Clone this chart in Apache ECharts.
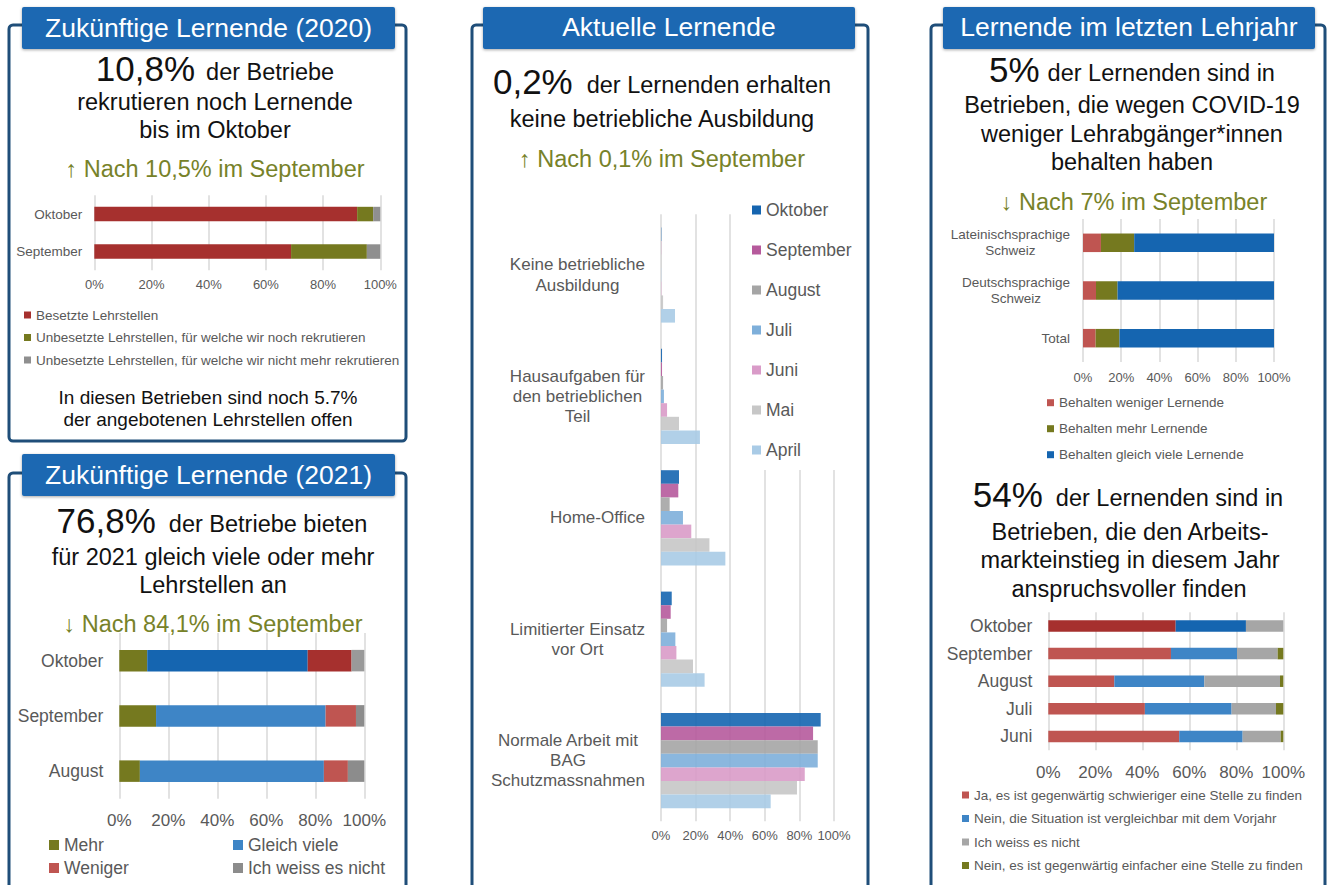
<!DOCTYPE html>
<html>
<head>
<meta charset="utf-8">
<script src="https://cdn.jsdelivr.net/npm/echarts@6/dist/echarts.min.js"></script>
<style>
html,body{margin:0;padding:0;background:#fff;}
#c{width:1328px;height:885px;}
</style>
</head>
<body>
<div id="c"></div>
<script>
// ---------- DATA ----------
// Panel 1: Zukünftige Lernende (2020)
const cat2020 = ['Oktober', 'September'];
const besetzt = [91.9, 68.8];
const unbesetztNoch = [5.6, 26.5];
const unbesetztNicht = [2.5, 4.7];

// Panel 2: Zukünftige Lernende (2021)
const cat2021 = ['Oktober', 'September', 'August'];
const mehr = [11.4, 15.0, 8.4];
const gleichViele = [65.5, 69.2, 75.1];
const weniger = [17.9, 12.4, 9.8];
const weissNicht2021 = [5.2, 3.4, 6.7];

// Panel 3: Aktuelle Lernende
const catAktuell = ['Keine betriebliche\nAusbildung', 'Hausaufgaben für\nden betrieblichen\nTeil', 'Home-Office', 'Limitierter Einsatz\nvor Ort', 'Normale Arbeit mit\nBAG\nSchutzmassnahmen'];
const monthNames = ['Oktober', 'September', 'August', 'Juli', 'Juni', 'Mai', 'April'];
const oktober = [0.2, 0.6, 10.4, 6.2, 92.3];
const september = [0.1, 0.6, 10.0, 5.6, 87.9];
const august = [0.1, 1.2, 5.0, 3.5, 90.6];
const juli = [0.1, 1.7, 12.7, 8.3, 90.6];
const juni = [0.2, 3.5, 17.5, 8.9, 83.1];
const mai = [1.2, 10.4, 28.0, 18.5, 78.6];
const april = [8.1, 22.5, 37.2, 25.2, 63.4];

// Panel 4: Lernende im letzten Lehrjahr
const catRegion = ['Lateinischsprachige\nSchweiz', 'Deutschsprachige\nSchweiz', 'Total'];
const behaltenWeniger = [9.4, 6.8, 6.6];
const behaltenMehr = [17.4, 11.3, 12.5];
const behaltenGleich = [73.2, 81.9, 80.9];

// Panel 5: Arbeitsmarkteinstieg
const catEinstieg = ['Oktober', 'September', 'August', 'Juli', 'Juni'];
const schwieriger = [54.2, 52.2, 28.1, 41.1, 55.7];
const vergleichbar = [29.9, 28.1, 38.3, 36.9, 27.0];
const weissNicht = [15.9, 17.3, 32.2, 18.9, 16.2];
const einfacher = [0, 2.4, 1.4, 3.1, 1.1];

const tickValues = [0, 20, 40, 60, 80, 100];

// ---------- STYLE ----------
const FONT = "'Liberation Sans', Arial, sans-serif";
const GREY_TXT = '#595959';
const OLIVE = '#75791F';
const OLIVE_TXT = '#778229';
const DARKRED = '#A6302E';
const RED = '#BF5551';
const DARKBLUE = '#1565B0';
const BLUE = '#3E85C6';
const FRAME = '#1F4E79';
const HEAD = '#1B67B2';

function xAx(gi, fs, margin) {
  return {
    type: 'value', gridIndex: gi, min: tickValues[0], max: tickValues[tickValues.length - 1], interval: 20,
    axisLabel: { formatter: '{value}%', fontSize: fs, color: GREY_TXT, margin: margin, fontFamily: FONT },
    splitLine: { lineStyle: { color: '#D9D9D9', width: 1.5 } },
    axisLine: { show: false }, axisTick: { show: false }
  };
}
function yAx(gi, cats, fs, margin, lh) {
  return {
    type: 'category', gridIndex: gi, data: cats, inverse: true,
    axisLine: { show: false }, axisTick: { show: false },
    axisLabel: {
      margin: margin, color: GREY_TXT, fontSize: fs, fontFamily: FONT,
      formatter: v => v.split('\n').map(s => '{c|' + s + '}').join('\n'),
      rich: { c: { align: 'center', fontSize: fs, color: GREY_TXT, lineHeight: lh, fontFamily: FONT } }
    }
  };
}
function bar(name, gi, data, color, bw, stack, itemColors, opacity) {
  return {
    type: 'bar', name: name, xAxisIndex: gi, yAxisIndex: gi, stack: stack, barWidth: bw,
    barGap: '0%',
    itemStyle: { color: color, opacity: opacity == null ? 1 : opacity },
    data: data.map((v, i) => itemColors ? { value: v, itemStyle: { color: itemColors[i] } } : v),
    emphasis: { disabled: true }
  };
}

// ---------- GRAPHIC ----------
const g = [];
function frame(x, y, w, h) {
  g.push({ type: 'rect', z: 1, shape: { x, y, width: w, height: h, r: 4 }, style: { fill: 'none', stroke: FRAME, lineWidth: 3 } });
}
function header(x, y, w, h, text, cy) {
  g.push({ type: 'rect', z: 2, shape: { x, y, width: w, height: h, r: 2 }, style: { fill: HEAD, shadowBlur: 3, shadowColor: 'rgba(0,0,0,0.35)', shadowOffsetY: 1 } });
  g.push({ type: 'text', z: 3, style: { x: x + w / 2, y: cy, text: text, fill: '#fff', fontSize: 26.5, fontFamily: FONT, align: 'center', verticalAlign: 'middle' } });
}
function txt(x, y, text, size, color) {
  g.push({ type: 'text', z: 3, style: { x, y, text, fill: color || '#111', fontSize: size, fontFamily: FONT, align: 'center', verticalAlign: 'middle' } });
}
function bigLine(x, y, big, rest, gap) {
  g.push({ type: 'text', z: 3, style: {
    x, y, text: '{b|' + big + '}{n|' + rest + '}', align: 'center', verticalAlign: 'middle', fontFamily: FONT,
    rich: {
      b: { fontSize: 35, fill: '#111', fontFamily: FONT, verticalAlign: 'bottom' },
      n: { fontSize: 23.5, fill: '#111', fontFamily: FONT, verticalAlign: 'bottom', padding: [0, 0, 2, gap] }
    }
  } });
}

// Frames
frame(9, 25, 397, 416);
frame(9, 473, 397, 440);
frame(472, 25, 396, 890);
frame(931, 25, 394, 890);
// Headers
header(22, 7, 373, 42, 'Zukünftige Lernende (2020)', 27.5);
header(22, 454, 373, 42, 'Zukünftige Lernende (2021)', 475);
header(483, 7, 372, 42, 'Aktuelle Lernende', 27);
header(943, 7, 372, 42, 'Lernende im letzten Lehrjahr', 27);

// Panel 1 texts
bigLine(215, 68, '10,8%', 'der Betriebe', 11);
txt(215, 102, 'rekrutieren noch Lernende', 23.5);
txt(215, 130, 'bis im Oktober', 23.5);
txt(215, 169, '↑ Nach 10,5% im September', 23.5, OLIVE_TXT);
txt(208, 397.5, 'In diesen Betrieben sind noch 5.7%', 19);
txt(208, 419, 'der angebotenen Lehrstellen offen', 19);

// Panel 2 texts
bigLine(212, 520.6, '76,8%', 'der Betriebe bieten', 13);
txt(213, 557, 'für 2021 gleich viele oder mehr', 23.5);
txt(213, 585.2, 'Lehrstellen an', 23.5);
txt(213, 623.5, '↓ Nach 84,1% im September', 23.5, OLIVE_TXT);

// Panel 3 texts
bigLine(662, 81.2, '0,2%', 'der Lernenden erhalten', 14);
txt(662, 118.6, 'keine betriebliche Ausbildung', 23.5);
txt(662, 158.5, '↑ Nach 0,1% im September', 23.5, OLIVE_TXT);

// Panel 4 texts
bigLine(1132, 69.6, '5%', 'der Lernenden sind in', 8);
txt(1132, 105.2, 'Betrieben, die wegen COVID-19', 23.5);
txt(1132, 133.6, 'weniger Lehrabgänger*innen', 23.5);
txt(1132, 162, 'behalten haben', 23.5);
txt(1134, 202, '↓ Nach 7% im September', 23.5, OLIVE_TXT);

// Panel 5 texts
bigLine(1128, 494.6, '54%', 'der Lernenden sind in', 13);
txt(1130, 532, 'Betrieben, die den Arbeits-', 23.5);
txt(1130, 560.2, 'markteinstieg in diesem Jahr', 23.5);
txt(1129, 588.6, 'anspruchsvoller finden', 23.5);

// ---------- CHART ----------
const monthColors = ['#1565B0', '#B65A9C', '#A5A5A5', '#7EAFDA', '#D99BC8', '#C7C7C7', '#A9CBE6'];
const monthData = [oktober, september, august, juli, juni, mai, april];

const series = [
  // Panel 1
  bar('Besetzte Lehrstellen', 0, besetzt, DARKRED, 14.5, 's0'),
  bar('Unbesetzte Lehrstellen, für welche wir noch rekrutieren', 0, unbesetztNoch, OLIVE, 14.5, 's0'),
  bar('Unbesetzte Lehrstellen, für welche wir nicht mehr rekrutieren', 0, unbesetztNicht, '#8F8F8F', 14.5, 's0'),
  // Panel 2
  bar('Mehr', 1, mehr, OLIVE, 21.5, 's1'),
  bar('Gleich viele', 1, gleichViele, BLUE, 21.5, 's1', [DARKBLUE, BLUE, BLUE]),
  bar('Weniger', 1, weniger, RED, 21.5, 's1', [DARKRED, RED, RED]),
  bar('Ich weiss es nicht', 1, weissNicht2021, '#8C8C8C', 21.5, 's1', ['#9A9A9A', '#8C8C8C', '#8C8C8C']),
  // Panel 4
  bar('Behalten weniger Lernende', 3, behaltenWeniger, RED, 18.5, 's3'),
  bar('Behalten mehr Lernende', 3, behaltenMehr, OLIVE, 18.5, 's3'),
  bar('Behalten gleich viele Lernende', 3, behaltenGleich, DARKBLUE, 18.5, 's3'),
  // Panel 5
  bar('Ja, es ist gegenwärtig schwieriger eine Stelle zu finden', 4, schwieriger, RED, 11.5, 's4', [DARKRED, RED, RED, RED, RED]),
  bar('Nein, die Situation ist vergleichbar mit dem Vorjahr', 4, vergleichbar, BLUE, 11.5, 's4', [DARKBLUE, BLUE, BLUE, BLUE, BLUE]),
  bar('Ich weiss es nicht', 4, weissNicht, '#A6A6A6', 11.5, 's4'),
  bar('Nein, es ist gegenwärtig einfacher eine Stelle zu finden', 4, einfacher, OLIVE, 11.5, 's4')
];
// Panel 3
monthNames.forEach((m, i) => series.push(bar(m, 2, monthData[i], monthColors[i], 13.6, undefined, null, 0.9)));

const legendText = (fs, lh) => ({ color: GREY_TXT, fontSize: fs, fontFamily: FONT, lineHeight: lh });

const option = {
  animation: false,
  textStyle: { fontFamily: FONT },
  graphic: g,
  grid: [
    { left: 94.3, width: 286, top: 195.3, height: 75, containLabel: false },
    { left: 119.3, width: 245, top: 633, height: 165.75 },
    { left: 661, width: 173, top: 214.3, height: 607 },
    { left: 1083, width: 191, top: 219, height: 143 },
    { left: 1048.3, width: 235, top: 612.2, height: 138 }
  ],
  xAxis: [xAx(0, 13, 8), xAx(1, 17, 13), xAx(2, 13, 7.5), xAx(3, 13, 8.5), xAx(4, 17, 13.5)],
  yAxis: [
    yAx(0, cat2020, 13.5, 12, 16),
    yAx(1, cat2021, 17.5, 16, 20),
    yAx(2, catAktuell, 17, 16, 20.3),
    yAx(3, catRegion, 13.5, 13, 16),
    yAx(4, catEinstieg, 17.5, 16, 20)
  ],
  legend: [
    { orient: 'vertical', left: 24, top: 307, padding: 0, itemWidth: 7, itemHeight: 7, itemGap: 6.5, icon: 'rect',
      textStyle: legendText(13.5, 16), selectedMode: false,
      data: ['Besetzte Lehrstellen', 'Unbesetzte Lehrstellen, für welche wir noch rekrutieren', 'Unbesetzte Lehrstellen, für welche wir nicht mehr rekrutieren'] },
    { orient: 'vertical', left: 49, top: 835, padding: 0, itemWidth: 10, itemHeight: 10, itemGap: 3, icon: 'rect',
      textStyle: legendText(17.5, 20), selectedMode: false,
      data: ['Mehr', 'Weniger'] },
    { orient: 'vertical', left: 233, top: 835, padding: 0, itemWidth: 10, itemHeight: 10, itemGap: 3, icon: 'rect',
      textStyle: legendText(17.5, 20), selectedMode: false,
      data: ['Gleich viele', { name: 'Ich weiss es nicht', itemStyle: { color: '#8C8C8C' } }] },
    { orient: 'vertical', left: 745, top: 190, padding: [10, 10, 10, 7], backgroundColor: '#fff', itemWidth: 9, itemHeight: 9, itemGap: 20, icon: 'rect',
      textStyle: legendText(17.5, 20), selectedMode: false,
      data: monthNames.map((m, i) => ({ name: m, itemStyle: { color: monthColors[i], opacity: 1 } })) },
    { orient: 'vertical', left: 1047, top: 394.7, padding: 0, itemWidth: 7, itemHeight: 7, itemGap: 10, icon: 'rect',
      textStyle: legendText(13.5, 16), selectedMode: false,
      data: ['Behalten weniger Lernende', 'Behalten mehr Lernende', 'Behalten gleich viele Lernende'] },
    { orient: 'vertical', left: 962, top: 787, padding: 0, itemWidth: 7, itemHeight: 7, itemGap: 7.5, icon: 'rect',
      textStyle: legendText(13.5, 16), selectedMode: false,
      data: [
        { name: 'Ja, es ist gegenwärtig schwieriger eine Stelle zu finden', itemStyle: { color: RED } },
        { name: 'Nein, die Situation ist vergleichbar mit dem Vorjahr', itemStyle: { color: BLUE } },
        { name: 'Ich weiss es nicht', itemStyle: { color: '#A6A6A6' } },
        { name: 'Nein, es ist gegenwärtig einfacher eine Stelle zu finden', itemStyle: { color: OLIVE } }
      ] }
  ],
  series: series
};

const chart = echarts.init(document.getElementById('c'), null, { renderer: 'svg', width: 1328, height: 885 });
chart.setOption(option);
</script>
</body>
</html>
